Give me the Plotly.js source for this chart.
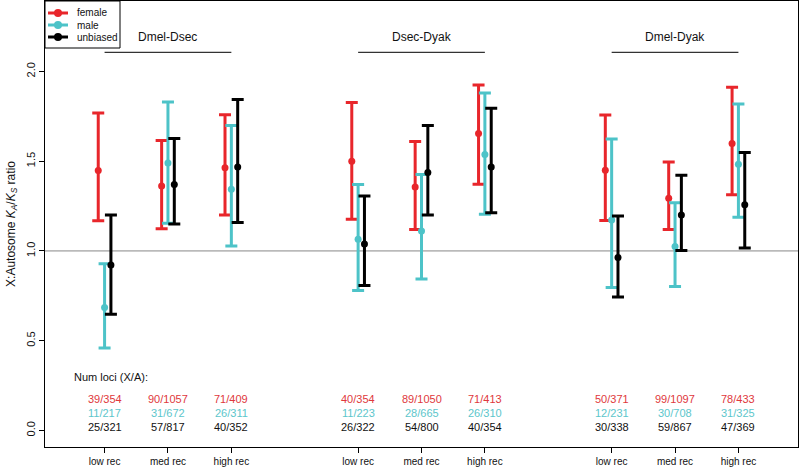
<!DOCTYPE html>
<html>
<head>
<meta charset="utf-8">
<script src="https://cdn.plot.ly/plotly-3.0.1.min.js"></script>
<style>html,body{margin:0;padding:0;background:#fff;}#chart{width:800px;height:468px;}</style>
</head>
<body>
<div id="chart"></div>
<script>
// ---- data ----
const comparisons = ["Dmel-Dsec", "Dsec-Dyak", "Dmel-Dyak"];
const categories = ["low rec", "med rec", "high rec"];
const seriesNames = ["female", "male", "unbiased"];

const femaleEst = [1.448, 1.361, 1.463, 1.500, 1.356, 1.654, 1.450, 1.293, 1.598];
const femaleLo  = [1.168, 1.124, 1.200, 1.176, 1.120, 1.372, 1.170, 1.120, 1.313];
const femaleHi  = [1.768, 1.615, 1.758, 1.826, 1.609, 1.924, 1.757, 1.496, 1.911];

const maleEst = [0.685, 1.490, 1.343, 1.065, 1.111, 1.537, 1.172, 1.024, 1.483];
const maleLo  = [0.460, 1.154, 1.028, 0.780, 0.844, 1.204, 0.796, 0.802, 1.187];
const maleHi  = [0.928, 1.830, 1.698, 1.370, 1.426, 1.879, 1.624, 1.268, 1.818];

const unbEst = [0.922, 1.370, 1.468, 1.039, 1.437, 1.467, 0.963, 1.200, 1.257];
const unbLo  = [0.648, 1.150, 1.159, 0.807, 1.200, 1.213, 0.743, 1.002, 1.017];
const unbHi  = [1.200, 1.626, 1.844, 1.306, 1.698, 1.794, 1.194, 1.422, 1.548];

const femaleLoci = ["39/354", "90/1057", "71/409", "40/354", "89/1050", "71/413", "50/371", "99/1097", "78/433"];
const maleLoci   = ["11/217", "31/672", "26/311", "11/223", "28/665", "26/310", "12/231", "30/708", "31/325"];
const unbLoci    = ["25/321", "57/817", "40/352", "26/322", "54/800", "40/354", "30/338", "59/867", "47/369"];

// ---- layout helpers ----
const FONT = "Liberation Sans, Arial, sans-serif";
const colors = ["#E8262B", "#4DC3C8", "#000000"];
const textColors = ["#E0383C", "#5CC6CB", "#111111"];
const offsets = [-0.1, 0, 0.1];

const xPos = [];
comparisons.forEach((c, g) => categories.forEach((k, i) => xPos.push(g * 4 + i + 1)));

const ests = [femaleEst, maleEst, unbEst];
const los = [femaleLo, maleLo, unbLo];
const his = [femaleHi, maleHi, unbHi];
const loci = [femaleLoci, maleLoci, unbLoci];

const traces = seriesNames.map((name, s) => ({
  type: "scatter",
  mode: "markers",
  name: name,
  x: xPos.map(x => x + offsets[s]),
  y: ests[s],
  marker: {color: colors[s], size: 7},
  error_y: {
    type: "data", symmetric: false,
    array: ests[s].map((v, i) => his[s][i] - v),
    arrayminus: ests[s].map((v, i) => v - los[s][i]),
    color: colors[s], thickness: 3, width: 6
  },
  showlegend: false
}));

const annotations = [];
const shapes = [];
const yLoci = [0.176, 0.098, 0.017];
loci.forEach((arr, s) => {
  arr.forEach((t, i) => {
    annotations.push({x: xPos[i], y: yLoci[s], xref: "x", yref: "y", text: t, showarrow: false,
      font: {family: FONT, size: 11, color: textColors[s]}, xanchor: "center", yanchor: "middle"});
  });
});
annotations.push({x: 0.48, y: 0.298, xref: "x", yref: "y", text: "Num loci (X/A):", showarrow: false,
  font: {family: FONT, size: 11, color: "#111"}, xanchor: "left", yanchor: "middle"});

comparisons.forEach((c, g) => {
  const xs = xPos.slice(g * 3, g * 3 + 3);
  annotations.push({x: xs[1], y: 2.194, xref: "x", yref: "y", text: c, showarrow: false,
    font: {family: FONT, size: 12, color: "#111"}, xanchor: "center", yanchor: "middle"});
  shapes.push({type: "line", xref: "x", yref: "y", x0: xs[0], x1: xs[2], y0: 2.106, y1: 2.106,
    line: {color: "#333", width: 1.2}});
});

shapes.push({type: "line", xref: "paper", yref: "y", x0: 0, x1: 1, y0: 1, y1: 1, line: {color: "#888", width: 1}, layer: "below"});

// ---- custom legend box (paper coordinates) ----
const plotW = 753, plotH = 446;
const px = v => v / plotW;          // pixels from left of plot -> paper x
const py = v => 1 - v / plotH;      // pixels from top of plot -> paper y
shapes.push({type: "rect", xref: "paper", yref: "paper", x0: 0, x1: px(75), y0: py(0), y1: py(47),
  line: {color: "#000", width: 1}, fillcolor: "#fff"});
seriesNames.forEach((name, s) => {
  const yy = py(12 + s * 12);
  shapes.push({type: "line", xref: "paper", yref: "paper", x0: px(3), x1: px(23), y0: yy, y1: yy,
    line: {color: colors[s], width: 3}});
  shapes.push({type: "circle", xref: "paper", yref: "paper", xsizemode: "pixel", ysizemode: "pixel",
    xanchor: px(13), yanchor: yy, x0: -4, x1: 4, y0: -4, y1: 4,
    line: {color: colors[s], width: 0}, fillcolor: colors[s]});
  annotations.push({x: px(30), y: yy, xref: "paper", yref: "paper", text: name, showarrow: false,
    xanchor: "left", yanchor: "middle", font: {family: FONT, size: 10, color: "#111"}});
});

const layout = {
  width: 800, height: 468,
  margin: {l: 45, r: 2, t: 1, b: 21},
  paper_bgcolor: "#fff", plot_bgcolor: "#fff",
  font: {family: FONT, size: 11, color: "#111"},
  xaxis: {
    range: [0.06, 11.94], tickmode: "array", tickvals: xPos,
    ticktext: xPos.map((x, i) => categories[i % 3]),
    showgrid: false, zeroline: false, showline: true, mirror: true, linecolor: "#000", linewidth: 1,
    ticks: "outside", ticklen: 5, tickcolor: "#000", tickfont: {size: 10}
  },
  yaxis: {
    range: [-0.092, 2.392], tickmode: "array", tickvals: [0, 0.5, 1, 1.5, 2],
    ticktext: ["0.0", "0.5", "1.0", "1.5", "2.0"], tickangle: -90,
    showgrid: false, zeroline: false, showline: true, mirror: true, linecolor: "#000", linewidth: 1,
    ticks: "outside", ticklen: 5, tickcolor: "#000", tickfont: {size: 11},
    title: {text: "X:Autosome <i>K<sub>A</sub></i>/<i>K<sub>S</sub></i> ratio", font: {size: 12}, standoff: 6}
  },
  annotations: annotations,
  shapes: shapes,
  showlegend: false
};

Plotly.newPlot("chart", traces, layout, {displayModeBar: false, staticPlot: true});
</script>
</body>
</html>
